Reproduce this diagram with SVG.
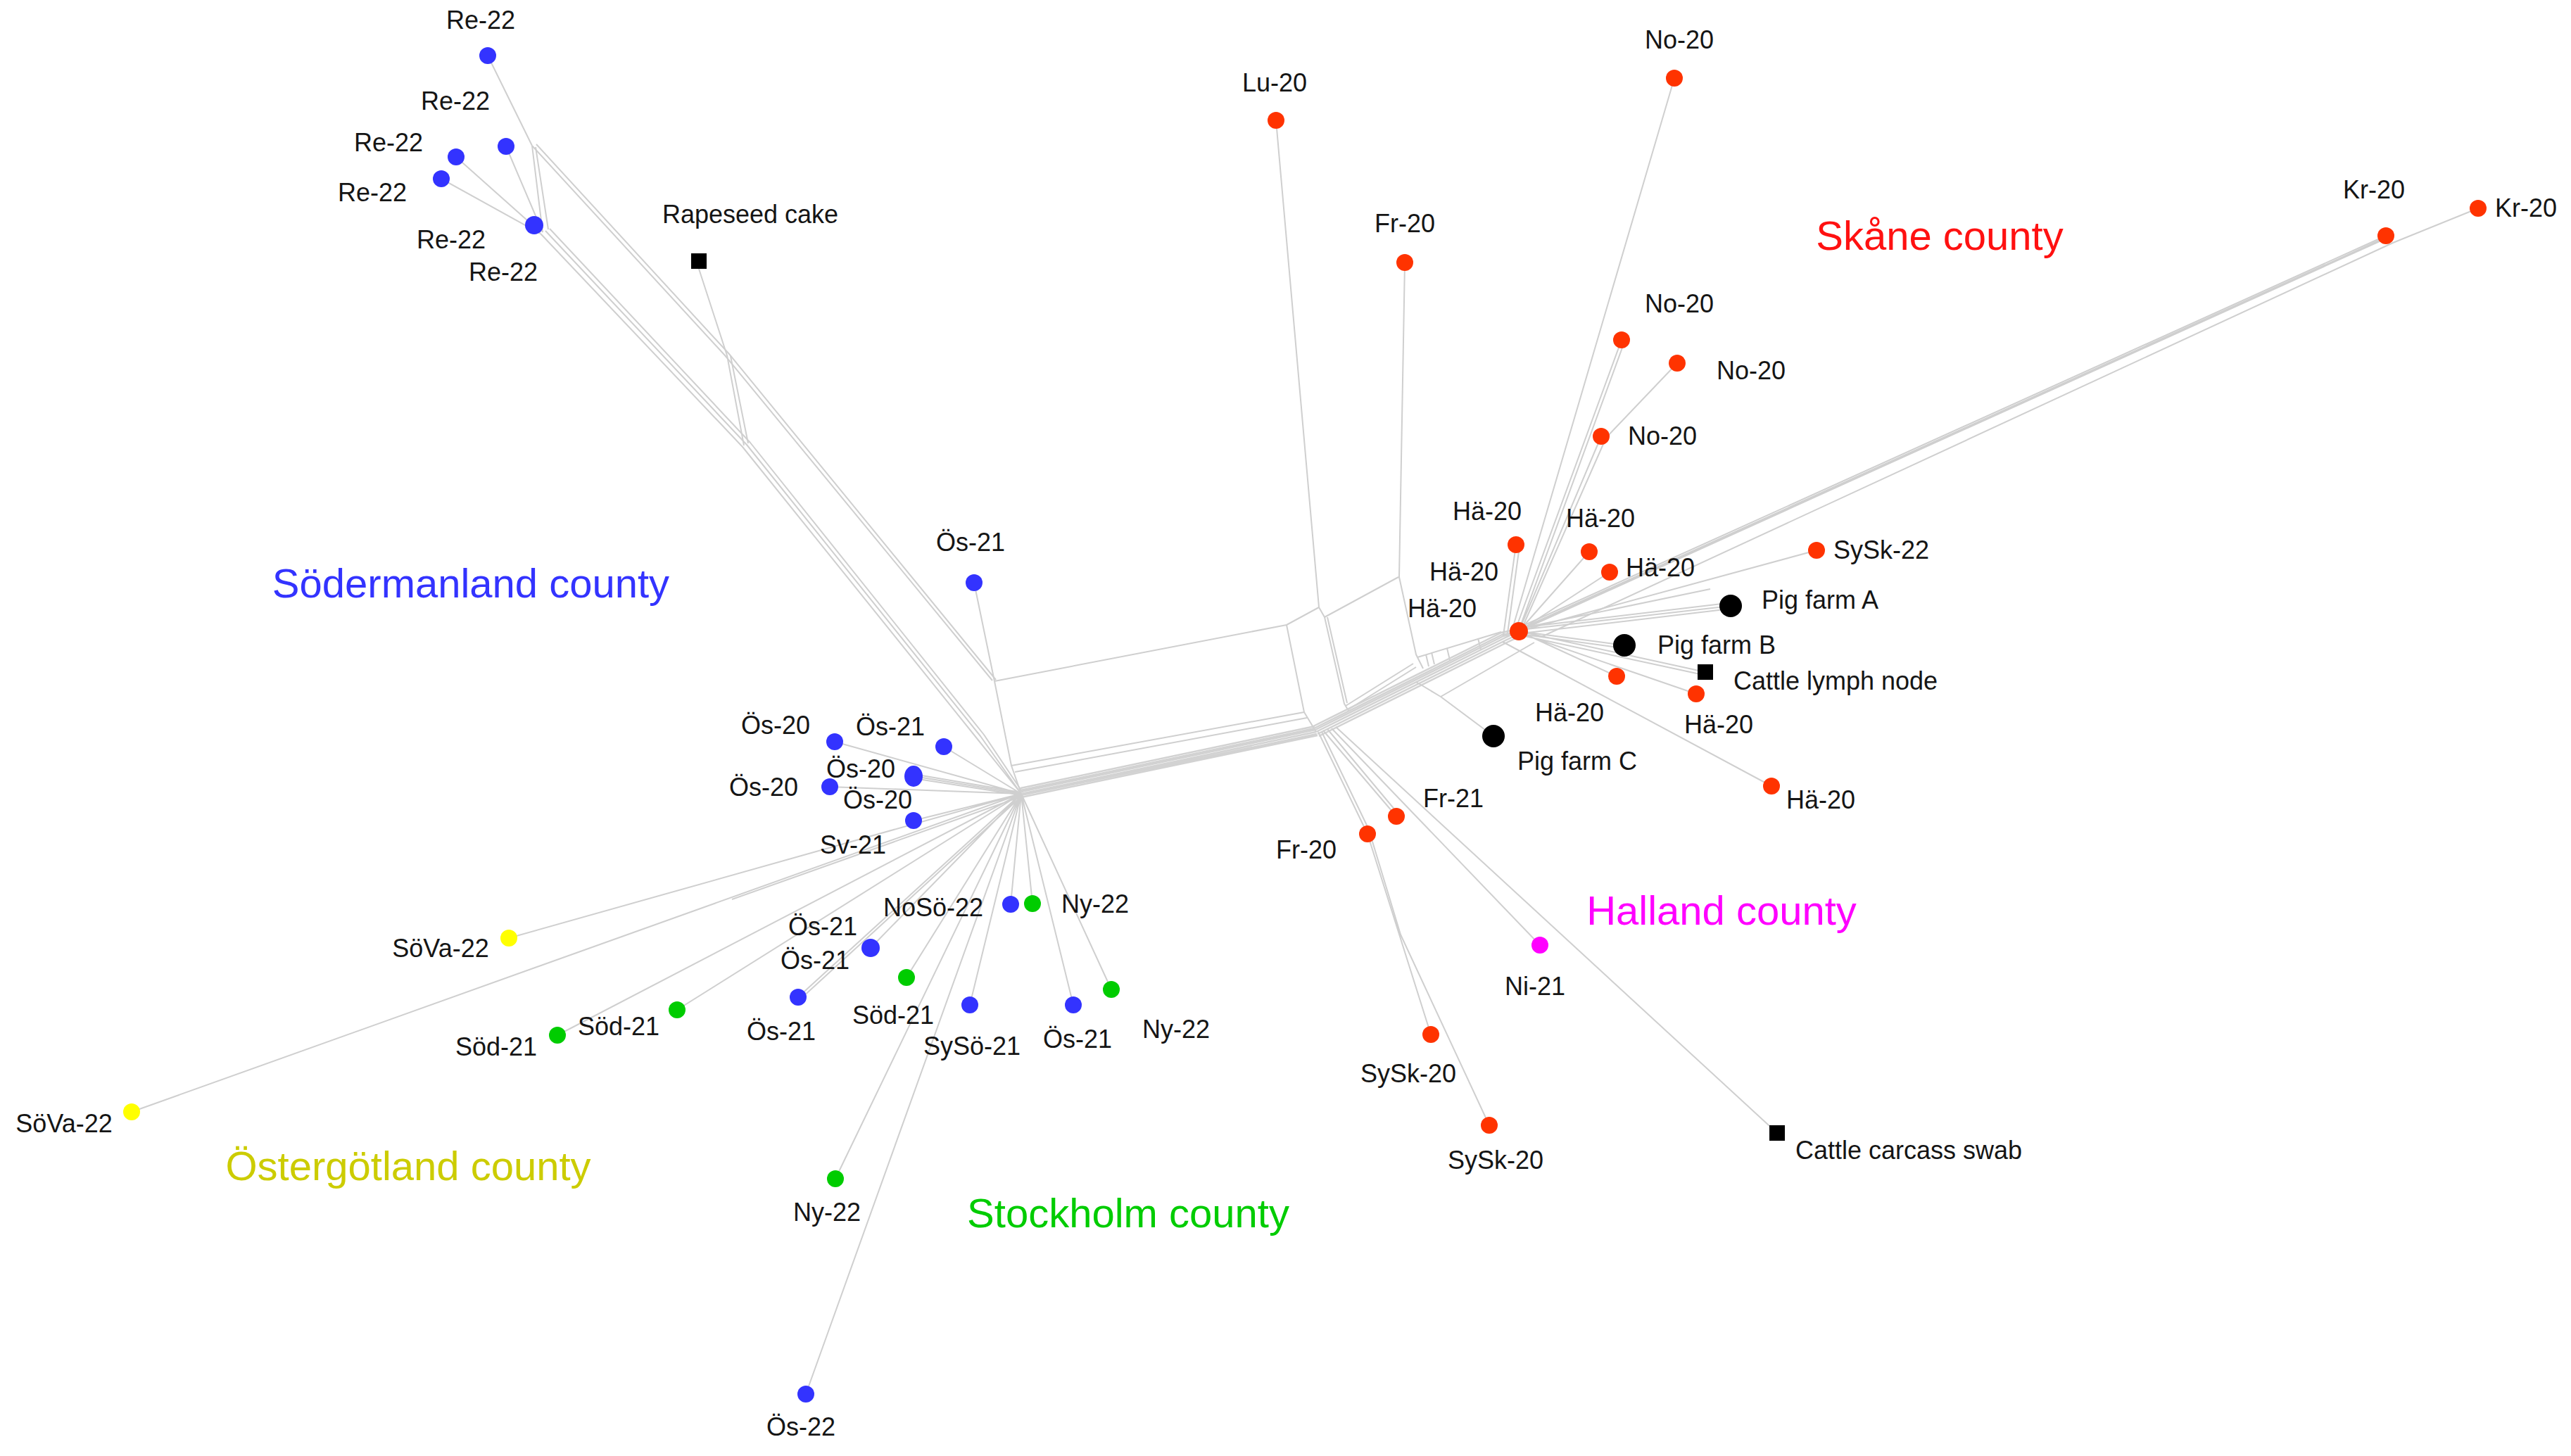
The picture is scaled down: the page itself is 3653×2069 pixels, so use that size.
<svg xmlns="http://www.w3.org/2000/svg" width="3653" height="2069" viewBox="0 0 3653 2069">
<style>
.e{stroke:#cfcfcf;stroke-width:2;fill:none;stroke-linejoin:round}
.bd{stroke:#d2d2d2;stroke-width:2.5}
.t{font-family:"Liberation Sans",Arial,sans-serif;font-size:36px;fill:#151515;text-anchor:middle}
.c{font-family:"Liberation Sans",Arial,sans-serif;font-size:58px;text-anchor:middle}
.b{fill:#3333ff}.r{fill:#ff3300}.g{fill:#00cc00}.y{fill:#ffff00}.m{fill:#ff00ff}.k{fill:#000}
</style>
<rect width="3653" height="2069" fill="#fff"/>
<g id="connectors" class="e">
<path d="M693,79 L756,207 M756,207 L771,330 M761,209 L779,326 M719,208 L771,330 M648,223 L768,330 M627,254 L768,332"/>
<path d="M768,332 L1055,635 L1387,1048 L1451,1128 M775,328 L1061,632 L1393,1046 L1451,1128 M781,325 L1066,629 L1398,1044 L1453,1126"/>
<path d="M756,207 L1030,505 L1410,967 M762,205 L1036,503 L1415,966"/>
<path d="M993,382 L1033,505 M1033,505 L1057,633 M1038,506 L1063,630"/>
<path d="M1384,828 L1413,968 L1437,1088 L1451,1128 M1413,968 L1828,888 L1853,1012 L1870,1040 M1437,1088 L1853,1012 M1442,1097 L1857,1020 M1828,888 L1874,863"/>
<path class="bd" d="M1451,1128 L1870,1040 M1451,1125 L1869,1037 M1450,1123 L1868,1035 M1450,1120 L1868,1032 M1451,1130 L1871,1043 M1451,1133 L1872,1045"/>
<path d="M1813,171 L1874,863 L1882,877 L1910,1000 L1916,1010 M1886,877 L1914,999 M1882,877 L1987,820 M1996,373 L1988,820 L2012,930 L2022,950 M1912,1003 L2008,943 M1916,1008 L2012,948"/>
<path d="M2014,934 L2133,898 M2026,930 L2030,947 M2034,927 L2038,944 M2056,921 L2060,938 M2100,907 L2104,923"/>
<path class="bd" d="M1870,1040 L2137,907 L2158,897 M1869,1037 L2136,904 L2158,897 M1867,1035 L2134,902 L2158,897 M1866,1032 L2133,899 L2156,894 M1872,1043 L2139,910 L2160,900 M1874,1046 L2141,913 L2162,903"/>
<path d="M2154,774 L2136,903 M2159,776 L2142,900"/>
<path d="M2122,1046 L2047,990 L2012,969 M2047,990 L2180,913 M2135,912 L2517,1117"/>
<path d="M2158,897 L2581,782 M2165,892 L2430,837 M2160,895 L2459,861 M2162,900 L2459,865 M2160,892 L2455,857 M2158,897 L2308,917 M2160,901 L2306,921 M2158,897 L2423,955 M2162,903 L2420,959 M2158,897 L2297,961 M2160,900 L2410,986 M2158,897 L2258,784 M2158,897 L2287,813"/>
<path d="M2162,890 L3390,335 M2167,893 L3392,338 M2164,892 L3391,337 M2190,905 L3400,345 L3521,296"/>
<path d="M2150,890 L2379,111 M2155,890 L2304,483 M2160,890 L2308,486 M2158,897 L2275,620 M2162,894 L2282,622 L2383,516"/>
<path d="M1873,1040 L1943,1185 M1878,1040 L1947,1183 M1943,1185 L2033,1470 M1947,1186 L1990,1328 L2116,1599 M1880,1038 L1984,1160 M1886,1036 L1988,1158 M1892,1035 L2188,1343 M1898,1033 L2525,1610"/>
<path d="M1451,1128 L1186,1054 M1451,1128 L1341,1061 M1451,1128 L1298,1103 M1451,1126 L1298,1100 M1451,1130 L1298,1106 M1451,1128 L1179,1118 M1451,1128 L1298,1166 M1451,1128 L1436,1285 M1451,1128 L1467,1284 M1451,1128 L1237,1347 M1451,1128 L1134,1417 M1453,1130 L1138,1419 M1451,1128 L1288,1389 M1451,1128 L1378,1428 M1451,1128 L1525,1428 M1451,1128 L1579,1406 M1451,1128 L962,1435 M1451,1128 L792,1471 M1451,1128 L1187,1675 M1451,1128 L1145,1981 M1451,1128 L723,1333 M1451,1128 L187,1580 M1451,1132 L1040,1278"/>
</g>
<g id="n-re22-1"><circle class="b" cx="693" cy="79" r="12"/><text class="t" x="683" y="41">Re-22</text></g>
<g id="n-re22-2"><circle class="b" cx="719" cy="208" r="12"/><text class="t" x="647" y="156">Re-22</text></g>
<g id="n-re22-3"><circle class="b" cx="648" cy="223" r="12"/><text class="t" x="552" y="215">Re-22</text></g>
<g id="n-re22-4"><circle class="b" cx="627" cy="254" r="12"/><text class="t" x="529" y="286">Re-22</text></g>
<g id="n-re22-5"><circle class="b" cx="759" cy="320" r="13"/><text class="t" x="641" y="353">Re-22</text><text class="t" x="715" y="399">Re-22</text></g>
<g id="n-rapeseed"><rect class="k" x="982" y="360" width="22" height="22"/><text class="t" x="1066" y="317">Rapeseed cake</text></g>
<g id="n-os21-a"><circle class="b" cx="1384" cy="828" r="12"/><text class="t" x="1379" y="783">Ös-21</text></g>
<g id="n-os20-a"><circle class="b" cx="1186" cy="1054" r="12"/><text class="t" x="1102" y="1043">Ös-20</text></g>
<g id="n-os21-b"><circle class="b" cx="1341" cy="1061" r="12"/><text class="t" x="1265" y="1045">Ös-21</text></g>
<g id="n-os20-b"><ellipse class="b" cx="1298" cy="1103" rx="13" ry="15"/><text class="t" x="1223" y="1105">Ös-20</text><text class="t" x="1247" y="1149">Ös-20</text></g>
<g id="n-os20-c"><circle class="b" cx="1179" cy="1118" r="12"/><text class="t" x="1085" y="1131">Ös-20</text></g>
<g id="n-sv21"><circle class="b" cx="1298" cy="1166" r="12"/><text class="t" x="1212" y="1213">Sv-21</text></g>
<g id="n-noso22"><circle class="b" cx="1436" cy="1285" r="12"/><text class="t" x="1326" y="1302">NoSö-22</text></g>
<g id="n-ny22-a"><circle class="g" cx="1467" cy="1284" r="12"/><text class="t" x="1556" y="1297">Ny-22</text></g>
<g id="n-os21-c"><circle class="b" cx="1237" cy="1347" r="13"/><text class="t" x="1169" y="1329">Ös-21</text><text class="t" x="1158" y="1377">Ös-21</text></g>
<g id="n-os21-d"><circle class="b" cx="1134" cy="1417" r="12"/><text class="t" x="1110" y="1478">Ös-21</text></g>
<g id="n-sod21-a"><circle class="g" cx="1288" cy="1389" r="12"/><text class="t" x="1269" y="1455">Söd-21</text></g>
<g id="n-syso21"><circle class="b" cx="1378" cy="1428" r="12"/><text class="t" x="1381" y="1499">SySö-21</text></g>
<g id="n-os21-e"><circle class="b" cx="1525" cy="1428" r="12"/><text class="t" x="1531" y="1489">Ös-21</text></g>
<g id="n-ny22-b"><circle class="g" cx="1579" cy="1406" r="12"/><text class="t" x="1671" y="1475">Ny-22</text></g>
<g id="n-sova22-a"><circle class="y" cx="723" cy="1333" r="12"/><text class="t" x="626" y="1360">SöVa-22</text></g>
<g id="n-sod21-b"><circle class="g" cx="962" cy="1435" r="12"/><text class="t" x="879" y="1471">Söd-21</text></g>
<g id="n-sod21-c"><circle class="g" cx="792" cy="1471" r="12"/><text class="t" x="705" y="1500">Söd-21</text></g>
<g id="n-sova22-b"><circle class="y" cx="187" cy="1580" r="12"/><text class="t" x="91" y="1609">SöVa-22</text></g>
<g id="n-ny22-c"><circle class="g" cx="1187" cy="1675" r="12"/><text class="t" x="1175" y="1735">Ny-22</text></g>
<g id="n-os22"><circle class="b" cx="1145" cy="1981" r="12"/><text class="t" x="1138" y="2040">Ös-22</text></g>
<g id="n-lu20"><circle class="r" cx="1813" cy="171" r="12"/><text class="t" x="1811" y="130">Lu-20</text></g>
<g id="n-fr20-a"><circle class="r" cx="1996" cy="373" r="12"/><text class="t" x="1996" y="330">Fr-20</text></g>
<g id="n-no20-a"><circle class="r" cx="2379" cy="111" r="12"/><text class="t" x="2386" y="69">No-20</text></g>
<g id="n-no20-b"><circle class="r" cx="2304" cy="483" r="12"/><text class="t" x="2386" y="444">No-20</text></g>
<g id="n-no20-c"><circle class="r" cx="2383" cy="516" r="12"/><text class="t" x="2488" y="539">No-20</text></g>
<g id="n-no20-d"><circle class="r" cx="2275" cy="620" r="12"/><text class="t" x="2362" y="632">No-20</text></g>
<g id="n-kr20-a"><circle class="r" cx="3390" cy="335" r="12"/><text class="t" x="3373" y="282">Kr-20</text></g>
<g id="n-kr20-b"><circle class="r" cx="3521" cy="296" r="12"/><text class="t" x="3589" y="308">Kr-20</text></g>
<g id="n-ha20-a"><circle class="r" cx="2154" cy="774" r="12"/><text class="t" x="2113" y="739">Hä-20</text></g>
<g id="n-ha20-b"><circle class="r" cx="2258" cy="784" r="12"/><text class="t" x="2274" y="749">Hä-20</text></g>
<g id="n-ha20-c"><circle class="r" cx="2287" cy="813" r="12"/><text class="t" x="2359" y="819">Hä-20</text></g>
<g id="n-ha20-hub"><circle class="r" cx="2158" cy="897" r="13"/><text class="t" x="2080" y="825">Hä-20</text><text class="t" x="2049" y="877">Hä-20</text></g>
<g id="n-sysk22"><circle class="r" cx="2581" cy="782" r="12"/><text class="t" x="2673" y="794">SySk-22</text></g>
<g id="n-pigA"><circle class="k" cx="2459" cy="861" r="16"/><text class="t" x="2586" y="865">Pig farm A</text></g>
<g id="n-pigB"><circle class="k" cx="2308" cy="917" r="16"/><text class="t" x="2439" y="929">Pig farm B</text></g>
<g id="n-lymph"><rect class="k" x="2412" y="944" width="22" height="22"/><text class="t" x="2608" y="980">Cattle lymph node</text></g>
<g id="n-ha20-d"><circle class="r" cx="2297" cy="961" r="12"/><text class="t" x="2230" y="1025">Hä-20</text></g>
<g id="n-ha20-e"><circle class="r" cx="2410" cy="986" r="12"/><text class="t" x="2442" y="1042">Hä-20</text></g>
<g id="n-pigC"><circle class="k" cx="2122" cy="1046" r="16"/><text class="t" x="2241" y="1094">Pig farm C</text></g>
<g id="n-ha20-f"><circle class="r" cx="2517" cy="1117" r="12"/><text class="t" x="2587" y="1149">Hä-20</text></g>
<g id="n-fr21"><circle class="r" cx="1984" cy="1160" r="12"/><text class="t" x="2065" y="1147">Fr-21</text></g>
<g id="n-fr20-b"><circle class="r" cx="1943" cy="1185" r="12"/><text class="t" x="1856" y="1220">Fr-20</text></g>
<g id="n-ni21"><circle class="m" cx="2188" cy="1343" r="12"/><text class="t" x="2181" y="1414">Ni-21</text></g>
<g id="n-sysk20-a"><circle class="r" cx="2033" cy="1470" r="12"/><text class="t" x="2001" y="1538">SySk-20</text></g>
<g id="n-sysk20-b"><circle class="r" cx="2116" cy="1599" r="12"/><text class="t" x="2125" y="1661">SySk-20</text></g>
<g id="n-carcass"><rect class="k" x="2514" y="1599" width="22" height="22"/><text class="t" x="2712" y="1647">Cattle carcass swab</text></g>
<g id="county-labels">
<text class="c" x="669" y="849" fill="#3333ff">Södermanland county</text>
<text class="c" x="2756" y="355" fill="#ff1111">Skåne county</text>
<text class="c" x="2446" y="1314" fill="#ff00ff">Halland county</text>
<text class="c" x="580" y="1677" fill="#cccc00">Östergötland county</text>
<text class="c" x="1603" y="1744" fill="#00cc00">Stockholm county</text>
</g>
</svg>
